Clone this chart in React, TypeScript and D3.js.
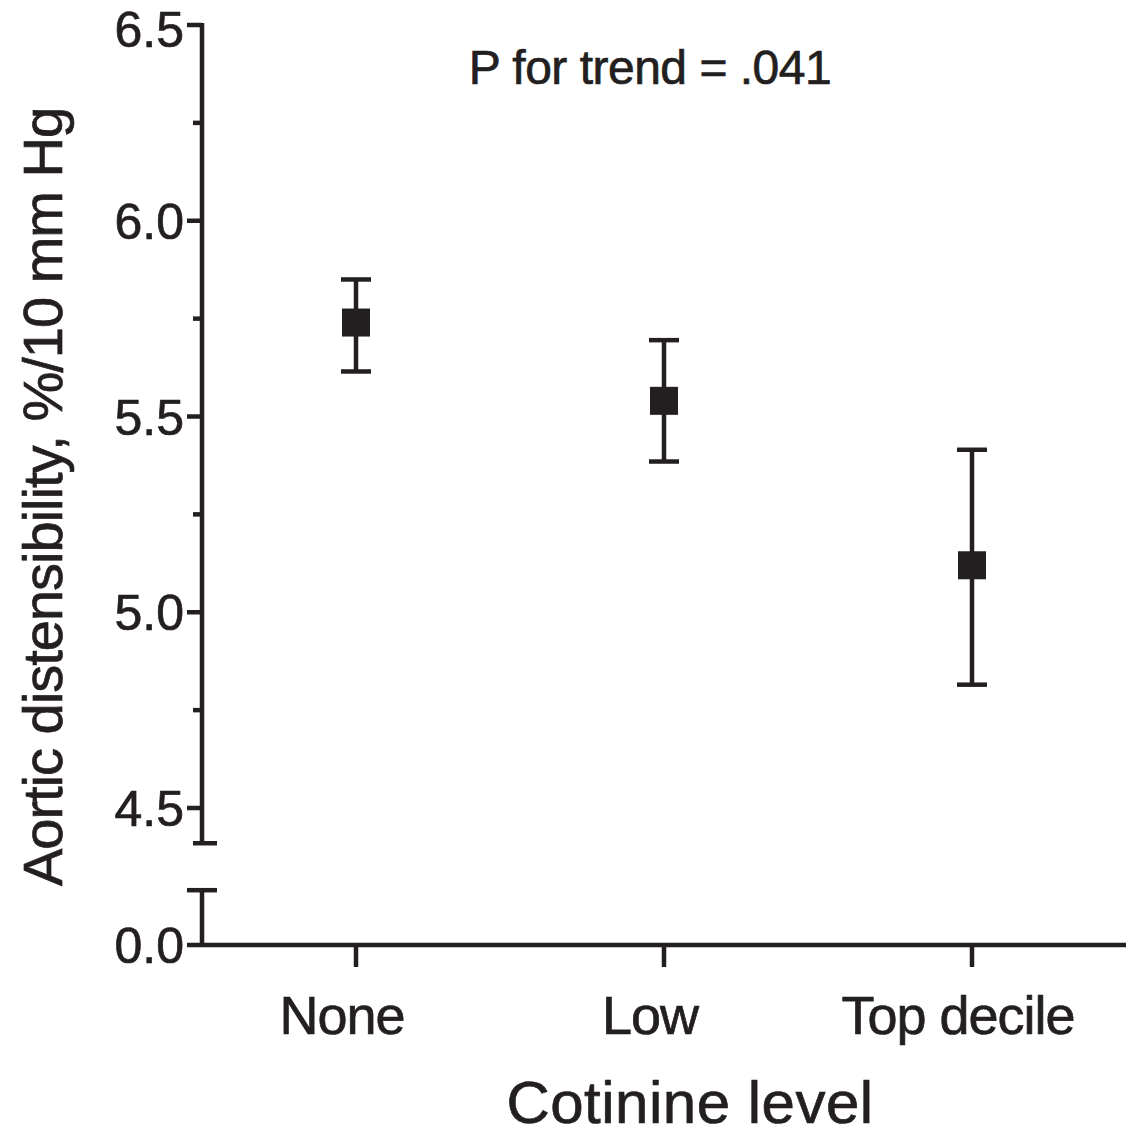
import React, { useRef, useEffect } from 'react';
import * as d3 from 'd3';

const categories = ['None', 'Low', 'Top decile'];
const means = [5.74, 5.54, 5.12];
const upper = [5.85, 5.695, 5.415];
const lower = [5.615, 5.385, 4.815];
const majorTicks = [4.5, 5.0, 5.5, 6.0, 6.5];
const minorTicks = [4.75, 5.25, 5.75, 6.25];

const INK = '#231f20';
const FONT = '"Liberation Sans", Arial, Helvetica, sans-serif';

const App = () => {
  const svgRef = useRef<SVGSVGElement>(null);

  useEffect(() => {
    const svg = d3.select(svgRef.current);
    svg.selectAll('*').remove();

    const width = 1126;
    const height = 1137;
    svg.attr('width', width).attr('height', height);

    const axisX = 202;
    const baseY = 945;
    const breakTop = 4.41; // bottom of upper segment
    const breakBottom = 0.14; // top of lower segment

    const y = d3.scaleLinear().domain([4.5, 6.5]).range([808, 25]);
    const pxPerUnit = (808 - 25) / 2;
    const y0 = d3.scaleLinear().domain([0, breakBottom]).range([baseY, baseY - breakBottom * pxPerUnit]);

    const x = d3.scalePoint<string>()
      .domain(categories)
      .range([axisX, width])
      .padding(0.5);

    const g = svg.append('g').attr('stroke', INK).attr('stroke-width', 4.5).attr('fill', 'none');

    // upper y segment
    g.append('line').attr('x1', axisX).attr('x2', axisX).attr('y1', y(6.5) - 2).attr('y2', y(breakTop));
    g.append('line').attr('x1', axisX - 9).attr('x2', axisX + 15).attr('y1', y(breakTop)).attr('y2', y(breakTop));

    // lower y segment
    g.append('line').attr('x1', axisX).attr('x2', axisX).attr('y1', y0(breakBottom)).attr('y2', baseY);
    g.append('line').attr('x1', axisX - 15).attr('x2', axisX + 15).attr('y1', y0(breakBottom)).attr('y2', y0(breakBottom));

    // x axis
    g.append('line').attr('x1', axisX - 15).attr('x2', width).attr('y1', baseY).attr('y2', baseY);
    g.selectAll('.xtick')
      .data(categories)
      .join('line')
      .attr('x1', d => x(d)!)
      .attr('x2', d => x(d)!)
      .attr('y1', baseY)
      .attr('y2', baseY + 22);

    // y ticks
    g.selectAll('.major')
      .data(majorTicks)
      .join('line')
      .attr('x1', axisX - 15)
      .attr('x2', axisX)
      .attr('y1', d => y(d))
      .attr('y2', d => y(d));
    g.selectAll('.minor')
      .data(minorTicks)
      .join('line')
      .attr('x1', axisX - 9)
      .attr('x2', axisX)
      .attr('y1', d => y(d))
      .attr('y2', d => y(d));

    const text = svg.append('g')
      .attr('fill', INK)
      .attr('stroke', INK)
      .attr('stroke-width', 0.7)
      .attr('font-family', FONT);

    text.selectAll('.ylab')
      .data(majorTicks)
      .join('text')
      .attr('x', axisX - 18)
      .attr('y', d => Math.max(y(d) + 18, 47))
      .attr('text-anchor', 'end')
      .attr('font-size', 50)
      .attr('letter-spacing', 0)
      .text(d => d.toFixed(1));
    text.append('text')
      .attr('x', axisX - 18)
      .attr('y', baseY + 18)
      .attr('text-anchor', 'end')
      .attr('font-size', 50)
      .attr('letter-spacing', 0)
      .text('0.0');

    text.selectAll('.xlab')
      .data(categories)
      .join('text')
      .attr('x', d => x(d)! - 14)
      .attr('y', 1034)
      .attr('text-anchor', 'middle')
      .attr('font-size', 54)
      .attr('letter-spacing', -1)
      .text(d => d);

    text.append('text')
      .attr('x', 690)
      .attr('y', 1123)
      .attr('text-anchor', 'middle')
      .attr('font-size', 60)
      .attr('letter-spacing', 0.5)
      .text('Cotinine level');

    text.append('text')
      .attr('transform', 'translate(62,497) rotate(-90)')
      .attr('text-anchor', 'middle')
      .attr('font-size', 56)
      .attr('letter-spacing', -1)
      .text('Aortic distensibility, %/10 mm Hg');

    text.append('text')
      .attr('x', 650)
      .attr('y', 84)
      .attr('text-anchor', 'middle')
      .attr('font-size', 48)
      .attr('letter-spacing', -0.5)
      .text('P for trend = .041');

    // error bars
    const points = categories.map((c, i) => ({ c, m: means[i], hi: upper[i], lo: lower[i] }));
    const eb = svg.append('g').attr('stroke', INK).attr('stroke-width', 4.5);
    eb.selectAll('.stem').data(points).join('line')
      .attr('x1', d => x(d.c)!).attr('x2', d => x(d.c)!)
      .attr('y1', d => y(d.hi)).attr('y2', d => y(d.lo));
    eb.selectAll('.capHi').data(points).join('line')
      .attr('x1', d => x(d.c)! - 15).attr('x2', d => x(d.c)! + 15)
      .attr('y1', d => y(d.hi)).attr('y2', d => y(d.hi));
    eb.selectAll('.capLo').data(points).join('line')
      .attr('x1', d => x(d.c)! - 15).attr('x2', d => x(d.c)! + 15)
      .attr('y1', d => y(d.lo)).attr('y2', d => y(d.lo));

    svg.append('g').selectAll('rect').data(points).join('rect')
      .attr('x', d => x(d.c)! - 14)
      .attr('y', d => y(d.m) - 14)
      .attr('width', 28)
      .attr('height', 28)
      .attr('fill', INK);
  }, []);

  return (
    <div style={{ position: 'absolute', left: 0, top: 0 }}>
      <svg ref={svgRef} style={{ display: 'block' }}></svg>
    </div>
  );
};

export default App;
